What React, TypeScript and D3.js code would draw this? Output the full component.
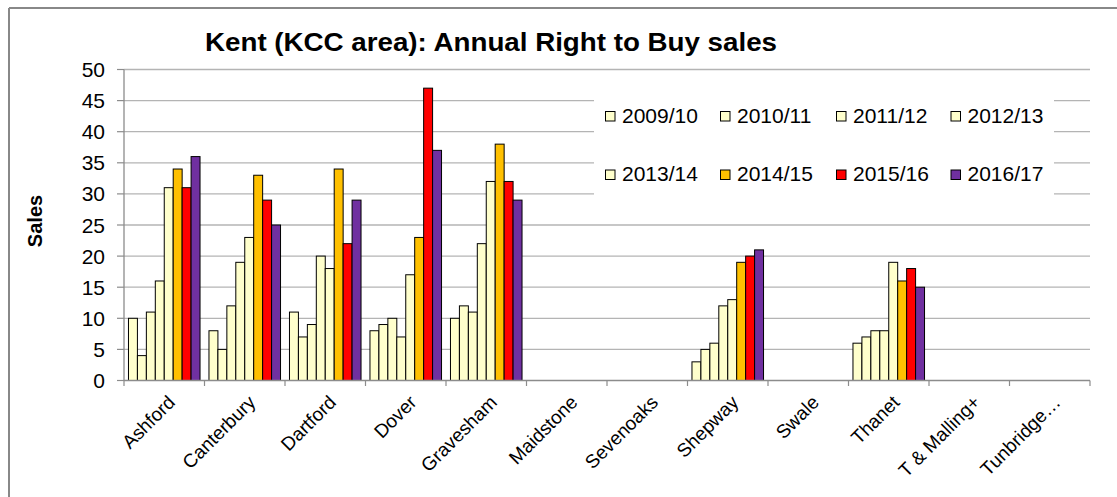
import React from "react";
import * as d3 from "d3";

const categories = ["Ashford", "Canterbury", "Dartford", "Dover", "Gravesham", "Maidstone", "Sevenoaks", "Shepway", "Swale", "Thanet", "T & Malling+", "Tunbridge…"];
const seriesNames = ["2009/10", "2010/11", "2011/12", "2012/13", "2013/14", "2014/15", "2015/16", "2016/17"];
const seriesColors = ["#FFFFCC", "#FFFFCC", "#FFFFCC", "#FFFFCC", "#FFFFCC", "#FFC000", "#FF0000", "#7030A0"];
// values per category, in series order
const ashford = [10, 4, 11, 16, 31, 34, 31, 36];
const canterbury = [8, 5, 12, 19, 23, 33, 29, 25];
const dartford = [11, 7, 9, 20, 18, 34, 22, 29];
const dover = [8, 9, 10, 7, 17, 23, 47, 37];
const gravesham = [10, 12, 11, 22, 32, 38, 32, 29];
const maidstone: (number | null)[] = [null, null, null, null, null, null, null, null];
const sevenoaks: (number | null)[] = [null, null, null, null, null, null, null, null];
const shepway = [3, 5, 6, 12, 13, 19, 20, 21];
const swale: (number | null)[] = [null, null, null, null, null, null, null, null];
const thanet = [6, 7, 8, 8, 19, 16, 18, 15];
const tMalling: (number | null)[] = [null, null, null, null, null, null, null, null];
const tunbridge: (number | null)[] = [null, null, null, null, null, null, null, null];
const values: (number | null)[][] = [ashford, canterbury, dartford, dover, gravesham, maidstone, sevenoaks, shepway, swale, thanet, tMalling, tunbridge];
const yTicks = [0, 5, 10, 15, 20, 25, 30, 35, 40, 45, 50];

const W = 1117;
const H = 497;
const left = 124;
const right = 1090;
const top = 69.5;
const bottom = 380.5;
const FONT = "'Liberation Sans', Arial, sans-serif";
const GRID = "#B4B4B4";
const AXIS = "#8C8C8C";

export default function App() {
  const x0 = d3.scaleBand<string>().domain(categories).range([left, right]).paddingInner(0).paddingOuter(0);
  const x1 = d3.scaleBand<string>().domain(seriesNames).range([0, x0.bandwidth()]).paddingInner(0).paddingOuter(0.5);
  const y = d3.scaleLinear().domain([0, 50]).range([bottom, top]);

  const legendCols = [605.5, 720.5, 836.5, 951];
  const legendRows = [111.5, 170];

  return (
    <svg width={W} height={H} style={{ position: "absolute", left: 0, top: 0, background: "#fff" }} fontFamily={FONT}>
      <rect x={0} y={0} width={W} height={H} fill="#fff" />
      {/* outer border */}
      <line x1={9} y1={8} x2={W} y2={8} stroke="#888" strokeWidth={2} />
      <line x1={9} y1={8} x2={9} y2={H} stroke="#888" strokeWidth={2} />

      <text x={491} y={51} textAnchor="middle" fontSize={25} fontWeight="bold" textLength={572} lengthAdjust="spacingAndGlyphs">
        Kent (KCC area): Annual Right to Buy sales
      </text>

      {/* gridlines */}
      {yTicks.map((t) => (
        <g key={t}>
          {t > 0 && <line x1={left} x2={right} y1={y(t)} y2={y(t)} stroke={GRID} strokeWidth={1.3} />}
          <line x1={117} x2={left} y1={y(t)} y2={y(t)} stroke={AXIS} strokeWidth={1.2} />
          <text x={105} y={y(t)} dy="0.36em" textAnchor="end" fontSize={21}>
            {t}
          </text>
        </g>
      ))}

      {/* bars */}
      {categories.map((c, ci) => (
        <g key={c} transform={`translate(${x0(c)},0)`}>
          {seriesNames.map((s, si) => {
            const v = values[ci][si];
            if (v == null) return null;
            return (
              <rect
                key={s}
                x={x1(s)}
                y={y(v)}
                width={x1.bandwidth()}
                height={y(0) - y(v)}
                fill={seriesColors[si]}
                stroke="#000"
                strokeWidth={1}
              />
            );
          })}
        </g>
      ))}

      {/* axes */}
      <line x1={left} x2={left} y1={top} y2={bottom} stroke={AXIS} strokeWidth={1.3} />
      <line x1={left} x2={right} y1={bottom} y2={bottom} stroke={AXIS} strokeWidth={1.3} />
      {categories.map((c) => (
        <line key={"t" + c} x1={x0(c)!} x2={x0(c)!} y1={bottom} y2={bottom + 5.5} stroke={AXIS} strokeWidth={1.2} />
      ))}
      <line x1={right} x2={right} y1={bottom} y2={bottom + 5.5} stroke={AXIS} strokeWidth={1.2} />

      {/* category labels */}
      {categories.map((c) => {
        const cx = x0(c)! + x0.bandwidth() / 2 + 12;
        const cy = bottom + 23;
        return (
          <text key={"l" + c} x={cx} y={cy} textAnchor="end" fontSize={19} transform={`rotate(-45,${cx},${cy})`}>
            {c}
          </text>
        );
      })}

      <text x={42} y={221} textAnchor="middle" fontSize={20} fontWeight="bold" transform="rotate(-90,42,221)">
        Sales
      </text>

      {/* legend */}
      <rect x={594} y={95} width={460} height={103} fill="#fff" />
      {seriesNames.map((s, i) => {
        const lx = legendCols[i % 4];
        const ly = legendRows[Math.floor(i / 4)];
        return (
          <g key={"lg" + s}>
            <rect x={lx} y={ly} width={9.5} height={9.5} fill={seriesColors[i]} stroke="#000" strokeWidth={1} />
            <text x={lx + 16.5} y={ly + 11} fontSize={21}>
              {s}
            </text>
          </g>
        );
      })}
    </svg>
  );
}
